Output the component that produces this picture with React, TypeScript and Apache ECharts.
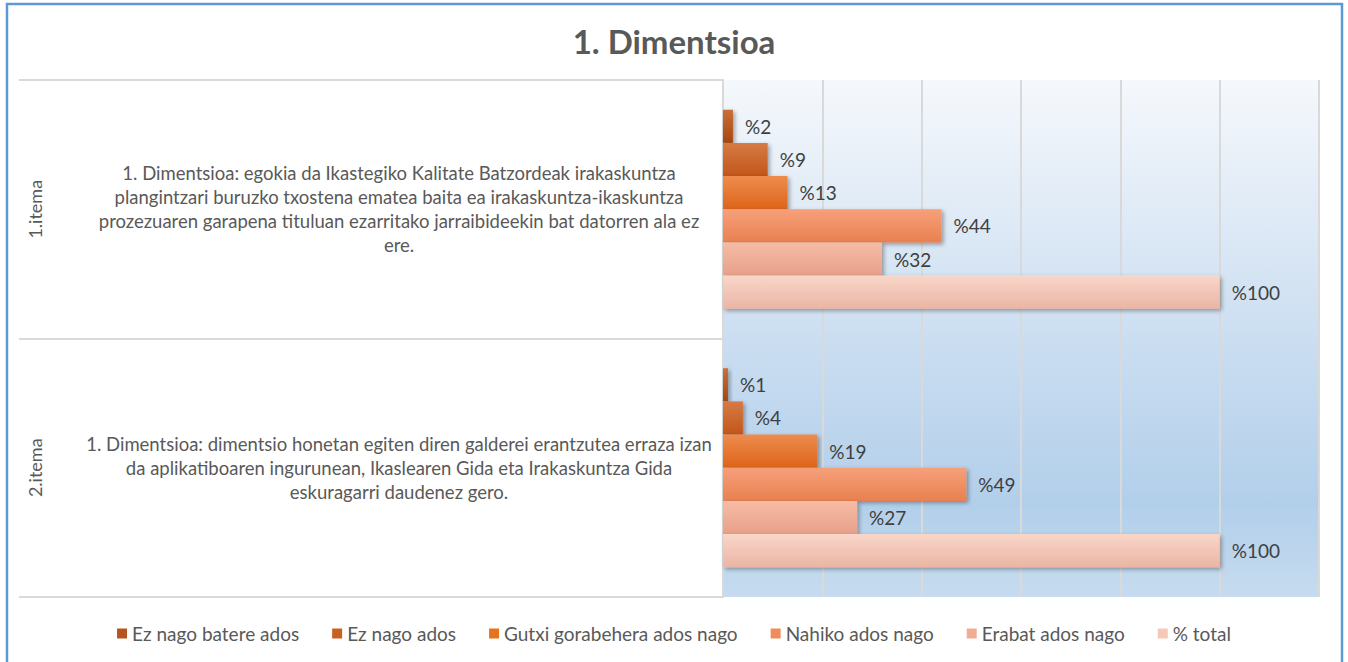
import React, { useEffect, useRef } from "react";
import * as echarts from "echarts";

const itemLabels = ["1.itema", "2.itema"];
const questionLines = [
  [
    "1. Dimentsioa: egokia da Ikastegiko Kalitate Batzordeak irakaskuntza",
    "plangintzari buruzko txostena ematea baita ea irakaskuntza-ikaskuntza",
    "prozezuaren garapena tituluan ezarritako jarraibideekin bat datorren ala ez",
    "ere.",
  ],
  [
    "1. Dimentsioa: dimentsio honetan egiten diren galderei erantzutea erraza izan",
    "da aplikatiboaren ingurunean, Ikaslearen Gida eta Irakaskuntza Gida",
    "eskuragarri daudenez gero.",
  ],
];
const categories = questionLines.map((l) => l.join("\n"));

const seriesNames = [
  "Ez nago batere ados",
  "Ez nago ados",
  "Gutxi gorabehera ados nago",
  "Nahiko ados nago",
  "Erabat ados nago",
  "% total",
];
const ezBatere = [2, 1];
const ezAdos = [9, 4];
const gutxi = [13, 19];
const nahiko = [44, 49];
const erabat = [32, 27];
const total = [100, 100];
const seriesValues = [ezBatere, ezAdos, gutxi, nahiko, erabat, total];

const xTicks = { min: 0, max: 120, interval: 20 };

const palette = [
  { top: "#C96F38", bottom: "#A5470F", legend: "#B5541C" },
  { top: "#D67B45", bottom: "#C2561A", legend: "#C9601F" },
  { top: "#EE8C4E", bottom: "#DE6419", legend: "#E8731E" },
  { top: "#F6A07A", bottom: "#E98050", legend: "#F08C5C" },
  { top: "#F6BCA5", bottom: "#E8A08A", legend: "#F2AC92" },
  { top: "#F9D6CA", bottom: "#EBB5A4", legend: "#F5C8B8" },
];

const FONT = "Lato, 'Noto Sans', sans-serif";

export default function App() {
  const ref = useRef<HTMLDivElement>(null);
  useEffect(() => {
    if (!ref.current) return;
    const chart = echarts.init(ref.current, undefined, { renderer: "svg" });
    const option: any = {
      animation: false,
      backgroundColor: "#ffffff",
      textStyle: { fontFamily: FONT },
      title: {
        text: "1. Dimentsioa",
        left: "center",
        top: 19,
        textStyle: { fontFamily: FONT, fontWeight: "bold", fontSize: 33, color: "#595959" },
      },
      legend: {
        bottom: 14,
        left: "center",
        icon: "rect",
        itemWidth: 10,
        itemHeight: 10,
        itemGap: 33,
        textStyle: { fontFamily: FONT, fontSize: 19, color: "#595959" },
        data: seriesNames.map((n, i) => ({ name: n, itemStyle: { color: palette[i].legend } })),
      },
      graphic: [
        {
          type: "rect",
          shape: { x: 7, y: 4, width: 1335, height: 720 },
          style: { fill: "none", stroke: "#5B9BD5", lineWidth: 2.5 },
          silent: true,
        },
      ],
      grid: {
        left: 723,
        top: 80,
        width: 596,
        height: 517,
        show: true,
        borderWidth: 0,
        outerBoundsMode: "none",
        backgroundColor: new echarts.graphic.LinearGradient(0, 0, 0, 1, [
          { offset: 0, color: "#F5F8FC" },
          { offset: 0.5, color: "#CBDEF1" },
          { offset: 0.82, color: "#B2CFEA" },
          { offset: 1, color: "#C6DBEF" },
        ]),
      },
      xAxis: {
        type: "value",
        min: xTicks.min,
        max: xTicks.max,
        interval: xTicks.interval,
        axisLabel: { show: false },
        axisLine: { show: false },
        axisTick: { show: false },
        splitLine: { show: true, lineStyle: { color: "#D9D9D9", width: 2 } },
      },
      yAxis: [
        {
          type: "category",
          inverse: true,
          data: categories,
          position: "left",
          axisLine: { show: true, lineStyle: { color: "#D9D9D9", width: 2 } },
          axisTick: { show: true, length: 704, lineStyle: { color: "#D9D9D9", width: 2 } },
          axisLabel: {
            interval: 0,
            margin: 324,
            align: "center",
            color: "#595959",
            fontSize: 18.5,
            lineHeight: 24,
            fontFamily: FONT,
          },
        },
        {
          type: "category",
          inverse: true,
          data: itemLabels,
          position: "left",
          axisLine: { show: false },
          axisTick: { show: false },
          axisLabel: {
            interval: 0,
            rotate: 90,
            margin: 679,
            color: "#595959",
            fontSize: 18,
            fontFamily: FONT,
          },
        },
      ],
      series: seriesNames.map((name, i) => ({
        name,
        type: "bar",
        yAxisIndex: 0,
        data: seriesValues[i],
        barGap: "0%",
        barCategoryGap: "23%",
        itemStyle: {
          color: new echarts.graphic.LinearGradient(0, 0, 0, 1, [
            { offset: 0, color: palette[i].top },
            { offset: 1, color: palette[i].bottom },
          ]),
          shadowColor: "rgba(0,0,0,0.35)",
          shadowBlur: 4,
          shadowOffsetX: 2,
          shadowOffsetY: 2,
        },
        label: {
          show: true,
          position: "right",
          distance: 12,
          formatter: "%{c}",
          color: "#404040",
          fontSize: 19,
          fontFamily: FONT,
        },
      })),
    };
    chart.setOption(option);
    return () => chart.dispose();
  }, []);
  return (
    <div
      ref={ref}
      style={{ position: "absolute", left: 0, top: 0, width: 1348, height: 662 }}
    />
  );
}
